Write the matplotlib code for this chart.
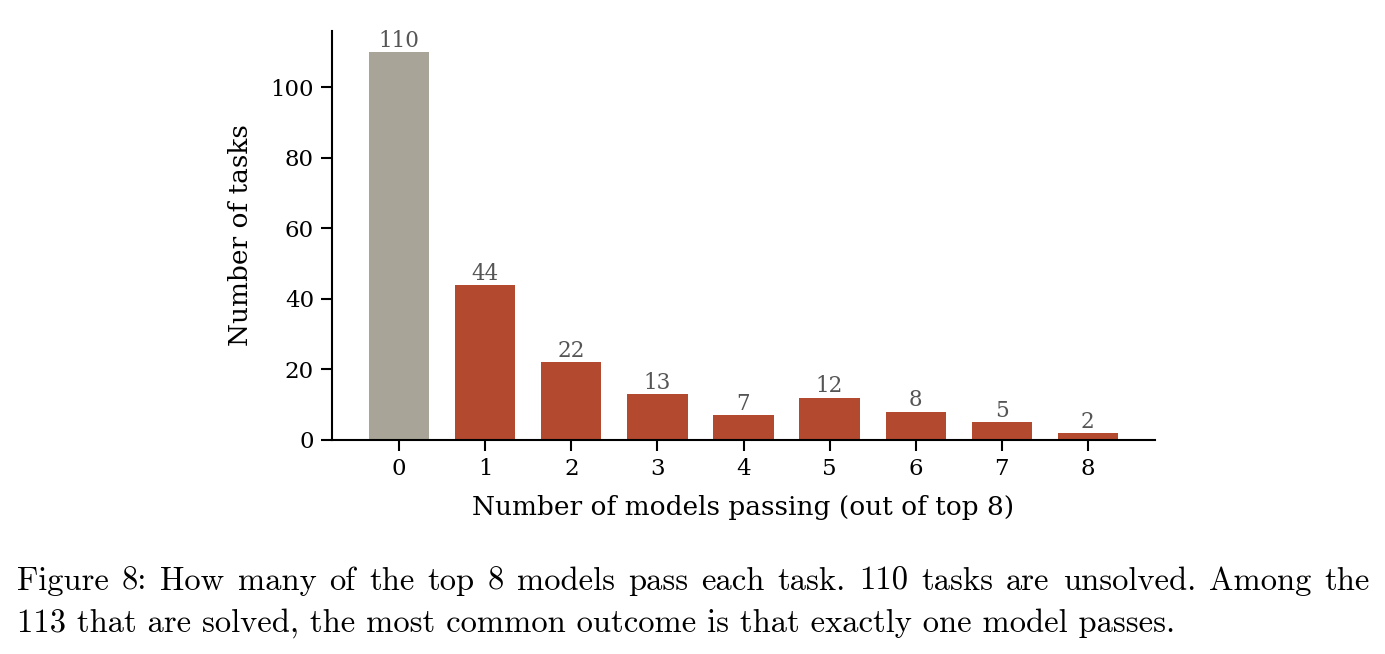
import matplotlib
matplotlib.use("Agg")
import matplotlib.pyplot as plt
import numpy as np

# data
n_models = [0, 1, 2, 3, 4, 5, 6, 7, 8]
n_tasks = [110, 44, 22, 13, 7, 12, 8, 5, 2]
grey = "#a8a598"
red = "#b34a30"
colors = [grey] + [red] * 8

caption_lines = [
    "Figure 8: How many of the top 8 models pass each task. 110 tasks are unsolved. Among the",
    "113 that are solved, the most common outcome is that exactly one model passes.",
]

plt.rcParams["font.family"] = "DejaVu Serif"

W, H = 1385, 654
fig = plt.figure(figsize=(W / 100, H / 100), dpi=100)
ax = fig.add_axes([332 / W, 1 - 440 / H, (1155 - 332) / W, (440 - 31) / H])

bars = ax.bar(n_models, n_tasks, width=0.7, color=colors)
for x, v in zip(n_models, n_tasks):
    ax.text(x, v + 0.1, str(v), ha="center", va="bottom", fontsize=15.5, color="#555555")

ax.set_xlim(-0.78, 8.78)
ax.set_ylim(0, 116)
ax.set_xticks(n_models)
ax.set_yticks([0, 20, 40, 60, 80, 100])
ax.tick_params(labelsize=16.5, width=1.5, length=8, pad=5)
ax.spines["top"].set_visible(False)
ax.spines["right"].set_visible(False)
ax.spines["left"].set_linewidth(1.5)
ax.spines["bottom"].set_linewidth(1.5)
ax.set_xlabel("Number of models passing (out of top 8)", fontsize=19, va="center")
ax.set_ylabel("Number of tasks", fontsize=19, va="center")
ax.xaxis.set_label_coords(0.5, (440 - 507) / 409)
ax.yaxis.set_label_coords((240 - 332) / 823, 0.5)

# caption: size fitted to line 2 width, first line justified
fig.canvas.draw()
r = fig.canvas.get_renderer()
x0, x1 = 17 / W, 1370 / W
probe = fig.text(0, 0, caption_lines[1], fontsize=20, family="cmr10")
cap_fs = 20 * 1157 / probe.get_window_extent(r).width
probe.remove()
for i, line in enumerate(caption_lines):
    y = 1 - (590 + 42 * i) / H
    if i == 0:
        words = line.split(" ")
        ts = [fig.text(0, y, w, fontsize=cap_fs, family="cmr10", va="baseline") for w in words]
        widths = [t.get_window_extent(r).width / fig.bbox.width for t in ts]
        gap = (x1 - x0 - sum(widths)) / (len(words) - 1)
        xp = x0
        for t, w in zip(ts, widths):
            t.set_x(xp)
            xp += w + gap
    else:
        fig.text(x0, y, line, fontsize=cap_fs, family="cmr10", va="baseline")

fig.savefig("out.png", dpi=100)
